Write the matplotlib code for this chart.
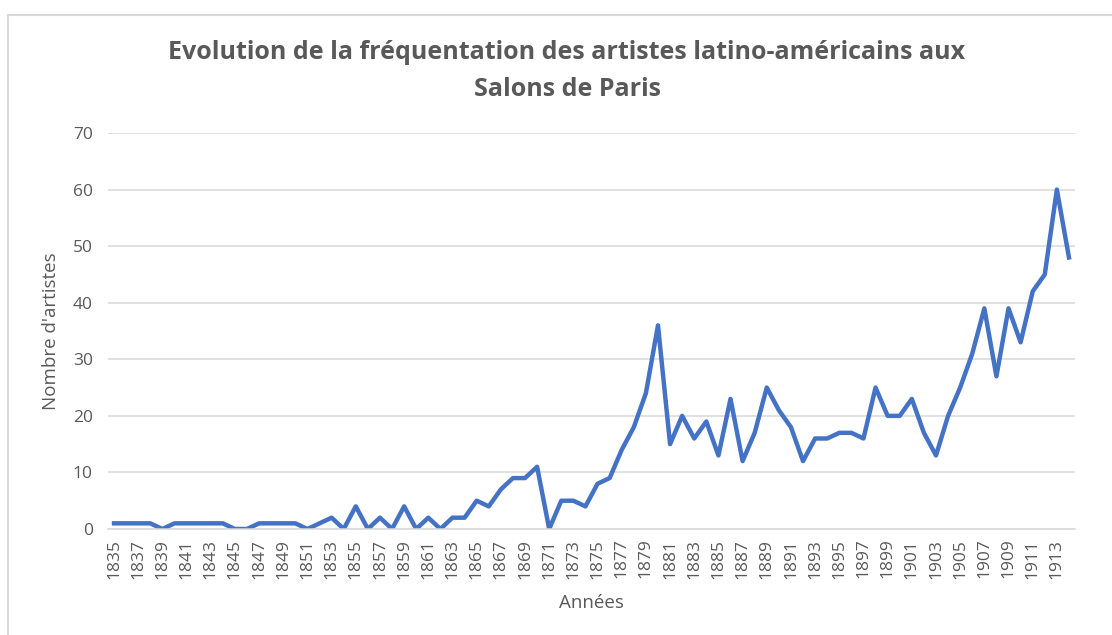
import matplotlib
matplotlib.use("Agg")
import matplotlib.pyplot as plt
from matplotlib.patches import Rectangle

years = list(range(1835, 1915))
artists = [1, 1, 1, 1, 0, 1, 1, 1, 1, 1,
           0, 0, 1, 1, 1, 1, 0, 1, 2, 0,
           4, 0, 2, 0, 4, 0, 2, 0, 2, 2,
           5, 4, 7, 9, 9, 11, 0, 5, 5, 4,
           8, 9, 14, 18, 24, 36, 15, 20, 16, 19,
           13, 23, 12, 17, 25, 21, 18, 12, 16, 16,
           17, 17, 16, 25, 20, 20, 23, 17, 13, 20,
           25, 31, 39, 27, 39, 33, 42, 45, 60, 48]
tick_years = years[::2]
yticks = [0, 10, 20, 30, 40, 50, 60, 70]

title = "Evolution de la fréquentation des artistes latino-américains aux\nSalons de Paris"
grey = "#595959"
font = ["Open Sans", "DejaVu Sans"]

fig = plt.figure(figsize=(11.12, 6.35), dpi=100)
fig.patches.append(Rectangle((8 / 1112, -0.05), 1.2, (635 - 15) / 635 + 0.05,
                             transform=fig.transFigure, fill=False,
                             edgecolor="#d9d9d9", linewidth=1.5))
ax = fig.add_axes([108 / 1112, (635 - 529) / 635, (1075 - 108) / 1112, (529 - 133) / 635])

ax.plot(years, artists, color="#4472C4", linewidth=3.2, solid_joinstyle="round")
ax.set_xlim(1834.5, 1914.5)
ax.set_ylim(0, 70)
ax.set_yticks(yticks)
ax.set_xticks(tick_years)
ax.set_xticklabels([str(y) for y in tick_years], rotation=90, family=font, fontsize=12.5, color=grey)
ax.set_yticklabels([str(v) for v in yticks], family=font, fontsize=12.5, color=grey)
ax.tick_params(axis="x", length=0, pad=7)
ax.tick_params(axis="y", length=0, pad=11)
ax.grid(axis="y", color="#d9d9d9", linewidth=1.1)
ax.set_axisbelow(True)
for s in ["top", "right", "left"]:
    ax.spines[s].set_visible(False)
ax.spines["bottom"].set_color("#d9d9d9")
ax.spines["bottom"].set_linewidth(1.1)

ax.set_xlabel("Années", family=font, fontsize=13.5, color=grey, labelpad=11)
ax.set_ylabel("Nombre d'artistes", family=font, fontsize=13.5, color=grey, labelpad=9)

fig.text(567 / 1112, 1 - 71 / 635, title, ha="center", va="center", family=font,
         fontsize=18, fontweight="bold", color=grey, linespacing=1.6)

fig.savefig("out.png", dpi=100)
